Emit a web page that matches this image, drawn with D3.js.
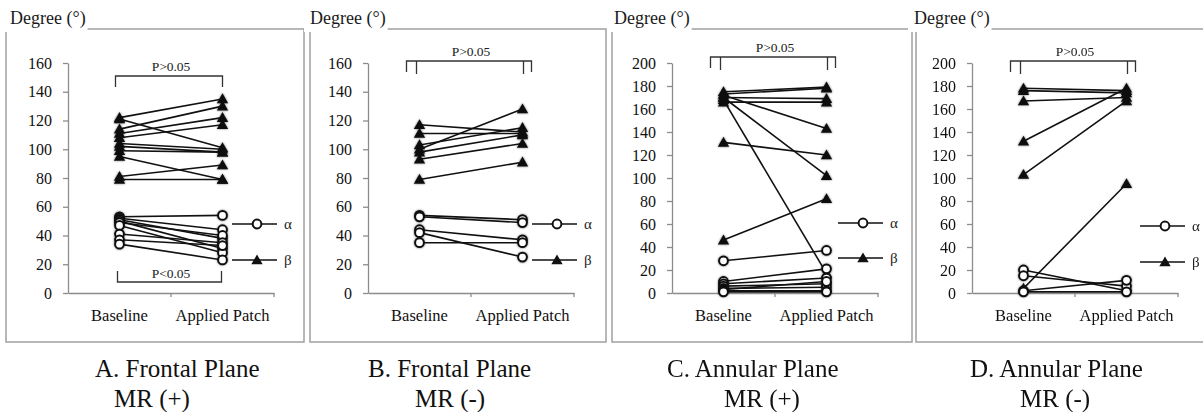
<!DOCTYPE html>
<html>
<head>
<meta charset="utf-8">
<script src="https://cdn.jsdelivr.net/npm/d3@7"></script>
<style>
  body { margin: 0; background: #fff; }
  svg { display: block; }
</style>
</head>
<body>
<div id="chart"></div>
<script>
// data (degrees)
const categories = ["Baseline", "Applied Patch"];
const ticksFrontal = [0, 20, 40, 60, 80, 100, 120, 140, 160];
const ticksAnnular = [0, 20, 40, 60, 80, 100, 120, 140, 160, 180, 200];

// A. Frontal plane, MR (+)
const alphaA_base  = [53, 52, 51, 50, 49, 47, 41, 37, 34];
const alphaA_patch = [54, 44, 38, 31, 40, 28, 35, 33, 23];
const betaA_base   = [122, 121, 114, 111, 108, 104, 102, 99, 95, 81, 79];
const betaA_patch  = [135, 101, 130, 122, 117, 100, 98, 98, 79, 89, 79];

// B. Frontal plane, MR (-)
const alphaB_base  = [54, 53, 44, 42, 35];
const alphaB_patch = [51, 49, 37, 25, 35];
const betaB_base   = [117, 111, 103, 100, 98, 93, 79];
const betaB_patch  = [112, 111, 115, 128, 110, 104, 91];

// C. Annular plane, MR (+)
const alphaC_base  = [28, 10, 8, 6, 4, 3, 2, 1];
const alphaC_patch = [37, 21, 13, 8, 5, 10, 2, 1];
const betaC_base   = [175, 173, 170, 166, 172, 170, 168, 131, 46];
const betaC_patch  = [179, 178, 169, 166, 143, 102, 17, 120, 82];

// D. Annular plane, MR (-)
const alphaD_base  = [20, 15, 2, 1];
const alphaD_patch = [2, 6, 11, 1];
const betaD_base   = [178, 176, 167, 132, 103, 4];
const betaD_patch  = [176, 174, 170, 178, 167, 95];

const captions = [
  ["A. Frontal Plane", "MR (+)"],
  ["B. Frontal Plane", "MR (-)"],
  ["C. Annular Plane", "MR (+)"],
  ["D. Annular Plane", "MR (-)"]
];

const width = 1203, height = 412;
const serif = "Liberation Serif, Times New Roman, serif";

const panels = [
  { x0: 0,   frame: [6, 304],    ticks: ticksFrontal, alpha: [alphaA_base, alphaA_patch], beta: [betaA_base, betaA_patch],
    bracket: "single", pTop: "P>0.05", pBottom: "P<0.05", cap: captions[0], capX: [95, 114], legendX: 232, legendY: [224, 260], bracketY: 76 },
  { x0: 300, frame: [310, 606],  ticks: ticksFrontal, alpha: [alphaB_base, alphaB_patch], beta: [betaB_base, betaB_patch],
    bracket: "double", pTop: "P>0.05", cap: captions[1], capX: [368, 415], legendX: 232, legendY: [224, 260], bracketY: 61 },
  { x0: 604, frame: [612, 912],  ticks: ticksAnnular, alpha: [alphaC_base, alphaC_patch], beta: [betaC_base, betaC_patch],
    bracket: "double", pTop: "P>0.05", cap: captions[2], capX: [667, 724], legendX: 234, legendY: [223, 258], bracketY: 57 },
  { x0: 904, frame: [916, 1215], ticks: ticksAnnular, alpha: [alphaD_base, alphaD_patch], beta: [betaD_base, betaD_patch],
    bracket: "double", pTop: "P>0.05", cap: captions[3], capX: [970, 1020], legendX: 236, legendY: [226, 262], bracketY: 61 }
];

const svg = d3.select("#chart").append("svg")
    .attr("width", width)
    .attr("height", height)
    .attr("viewBox", `0 0 ${width} ${height}`)
    .attr("font-family", serif);

// soft dark halo that the scanned markers have
const halo = svg.append("defs").append("filter")
    .attr("id", "halo")
    .attr("x", "-50%").attr("y", "-50%")
    .attr("width", "200%").attr("height", "200%");
halo.append("feGaussianBlur").attr("in", "SourceAlpha").attr("stdDeviation", 1.3).attr("result", "blur");
halo.append("feComponentTransfer").attr("in", "blur").attr("result", "soft")
    .append("feFuncA").attr("type", "linear").attr("slope", 0.55);
const merge = halo.append("feMerge");
merge.append("feMergeNode").attr("in", "soft");
merge.append("feMergeNode").attr("in", "SourceGraphic");

const frameTop = 29, frameBottom = 342;
const axisGray = "#8c8c8c";
const ink = "#111";

const triangle = d3.symbol(d3.symbolTriangle).size(56);

function drawTriangle(g, cx, cy) {
    g.append("path")
        .attr("d", triangle())
        .attr("transform", `translate(${cx},${cy + 1})`)
        .attr("fill", ink);
}

function drawCircle(g, cx, cy) {
    g.append("circle")
        .attr("cx", cx).attr("cy", cy).attr("r", 4.4)
        .attr("fill", "#fff")
        .attr("stroke", ink)
        .attr("stroke-width", 2);
}

panels.forEach(p => {
    // frame around the panel
    svg.append("rect")
        .attr("x", p.frame[0]).attr("y", frameTop)
        .attr("width", p.frame[1] - p.frame[0])
        .attr("height", frameBottom - frameTop)
        .attr("fill", "none")
        .attr("stroke", "#a0a0a0")
        .attr("stroke-width", 1.5);

    const g = svg.append("g").attr("transform", `translate(${p.x0},0)`);

    // y label sits over the top left of the frame
    const lab = g.append("text")
        .attr("x", 10).attr("y", 24)
        .attr("font-size", 18)
        .attr("fill", "#1a1a1a")
        .text("Degree (°)");
    const bb = lab.node().getBBox();
    g.insert("rect", "text")
        .attr("x", bb.x - 6).attr("y", 0)
        .attr("width", bb.width + 8).attr("height", frameTop + 3)
        .attr("fill", "#fff");

    const y = d3.scaleLinear()
        .domain([0, d3.max(p.ticks)])
        .range([293, 63]);

    const x = d3.scaleBand()
        .domain(categories)
        .range([68, 274]);

    const cx = c => x(c) + x.bandwidth() / 2;

    // y axis
    const yAxis = g.append("g")
        .attr("transform", "translate(68,0)")
        .call(d3.axisLeft(y).tickValues(p.ticks).tickSize(5).tickSizeOuter(0).tickPadding(11))
        .attr("font-family", serif)
        .attr("font-size", 16);
    yAxis.select(".domain").attr("stroke", axisGray).attr("stroke-width", 1.3);
    yAxis.selectAll(".tick line").attr("stroke", axisGray).attr("stroke-width", 1.3);
    yAxis.selectAll(".tick text").attr("fill", "#111");

    // x axis
    const xAxis = g.append("g")
        .attr("transform", "translate(0,293)")
        .call(d3.axisBottom(x).tickSize(0).tickPadding(16))
        .attr("font-family", serif)
        .attr("font-size", 16.5);
    xAxis.select(".domain").attr("stroke", axisGray).attr("stroke-width", 1.3);
    xAxis.selectAll(".tick text").attr("fill", "#111");
    const bounds = categories.map(c => x(c)).concat([x.range()[1]]);
    xAxis.selectAll(".bound")
        .data(bounds.slice(1))
        .join("line")
        .attr("x1", d => d).attr("x2", d => d)
        .attr("y1", 0).attr("y2", 4)
        .attr("stroke", axisGray)
        .attr("stroke-width", 1.3);

    // significance brackets
    const bx0 = cx(categories[0]), bx1 = cx(categories[1]);
    const br = g.append("g").attr("stroke", "#333").attr("stroke-width", 1.3).attr("fill", "none");
    if (p.bracket === "single") {
        const t = p.bracketY;
        br.append("path").attr("d", `M${bx0 - 4},${t + 11}V${t}H${bx1}V${t + 11}`);
        const b = 282;
        br.append("path").attr("d", `M${bx0 - 2},${b - 11}V${b}H${bx1 - 1}V${b - 11}`);
        g.append("text").attr("x", (bx0 + bx1) / 2).attr("y", t - 5)
            .attr("text-anchor", "middle").attr("font-size", 13.5).attr("fill", "#222").text(p.pTop);
        g.append("text").attr("x", (bx0 + bx1) / 2).attr("y", 278)
            .attr("text-anchor", "middle").attr("font-size", 13.5).attr("fill", "#222").text(p.pBottom);
    } else {
        const t = p.bracketY;
        br.append("path").attr("d", `M${bx0 - 13},${t + 11}V${t}H${bx1 + 9}V${t + 11}`);
        br.append("path").attr("d", `M${bx0 - 3},${t}V${t + 13}`);
        br.append("path").attr("d", `M${bx1 + 1},${t}V${t + 13}`);
        g.append("text").attr("x", (bx0 + bx1) / 2).attr("y", t - 5)
            .attr("text-anchor", "middle").attr("font-size", 13.5).attr("fill", "#222").text(p.pTop);
    }

    // lines first, markers on top
    const marks = g.append("g");
    [p.beta, p.alpha].forEach(series => {
        series[0].forEach((v, i) => {
            marks.append("line")
                .attr("x1", cx(categories[0])).attr("y1", y(v))
                .attr("x2", cx(categories[1])).attr("y2", y(series[1][i]))
                .attr("stroke", ink).attr("stroke-width", 1.6);
        });
    });
    const dots = g.append("g").attr("filter", "url(#halo)");
    p.beta[0].forEach((v, i) => {
        drawTriangle(dots, cx(categories[0]), y(v));
        drawTriangle(dots, cx(categories[1]), y(p.beta[1][i]));
    });
    p.alpha[0].forEach((v, i) => {
        drawCircle(dots, cx(categories[0]), y(v));
        drawCircle(dots, cx(categories[1]), y(p.alpha[1][i]));
    });

    // legend
    const lg = g.append("g");
    const lx = p.legendX;
    [["α", drawCircle], ["β", drawTriangle]].forEach(([name, fn], k) => {
        const ly = p.legendY[k];
        lg.append("line")
            .attr("x1", lx).attr("x2", lx + 45)
            .attr("y1", ly).attr("y2", ly)
            .attr("stroke", ink).attr("stroke-width", 1.6);
        fn(lg, lx + 25, ly);
        lg.append("text")
            .attr("x", lx + 52).attr("y", ly + 5)
            .attr("font-size", 15)
            .attr("fill", "#222")
            .text(name);
    });

    // caption below the frame
    svg.append("text")
        .attr("x", p.capX[0]).attr("y", 377)
        .attr("font-size", 25)
        .attr("fill", "#111")
        .text(p.cap[0]);
    svg.append("text")
        .attr("x", p.capX[1]).attr("y", 407)
        .attr("font-size", 25)
        .attr("fill", "#111")
        .text(p.cap[1]);
});
</script>
</body>
</html>
